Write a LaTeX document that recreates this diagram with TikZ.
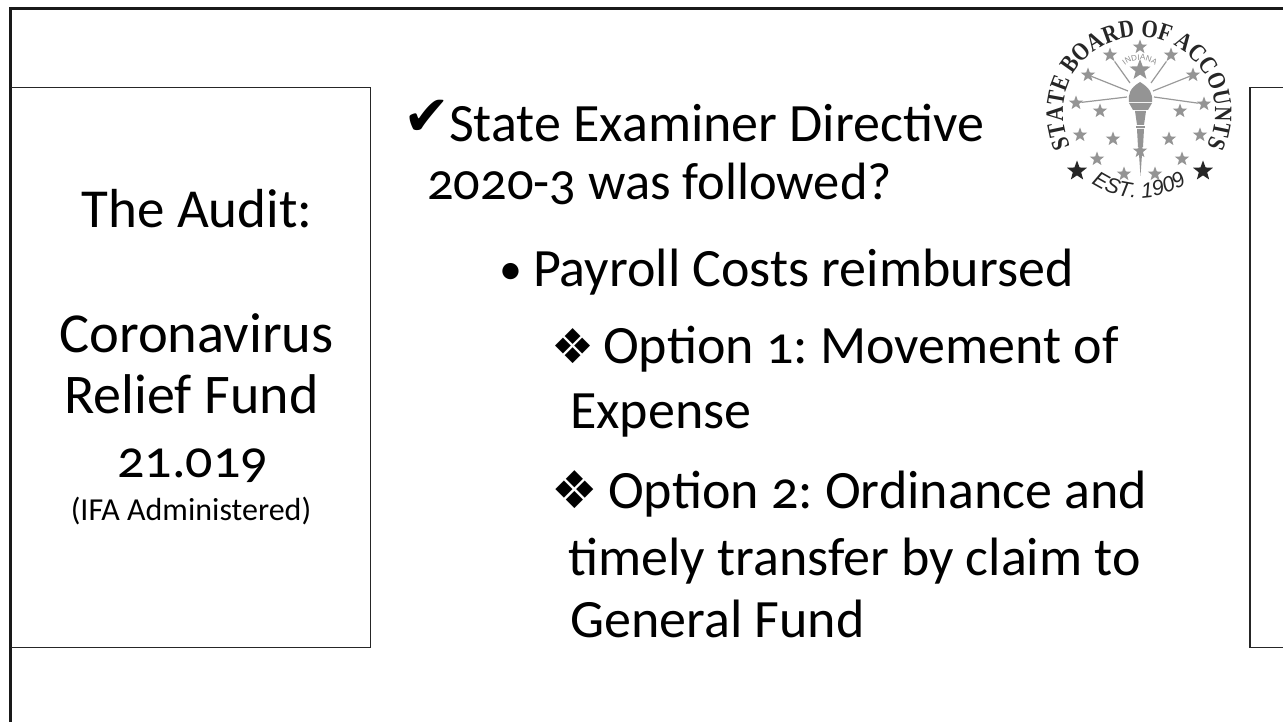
\documentclass[tikz,border=0pt]{standalone}
\usepackage{fontspec}
\setmainfont[Numbers=OldStyle]{Carlito}
\newfontfamily\symfont{DejaVu Sans}
\newfontfamily\sealserif[FakeStretch=0.84]{Liberation Serif}
\newfontfamily\sealsans{Liberation Sans}
\usetikzlibrary{shapes.geometric,decorations.text}
\tikzset{
 frameline/.style={draw=black!90,line width=3pt},
 boxline/.style={draw=black!85,line width=1.5pt},
 big/.style={font=\frenchspacing\fontsize{55}{55}\selectfont,anchor=base,inner sep=0pt},
 body/.style={font=\frenchspacing\fontsize{54}{54}\selectfont,anchor=base west,inner sep=0pt},
 small/.style={font=\frenchspacing\fontsize{32}{32}\selectfont,anchor=base,inner sep=0pt},
 gstar/.style={star,star points=5,star point ratio=2.4,fill=black!42,draw=none,minimum size=15pt,inner sep=0pt},
 kstar/.style={star,star points=5,star point ratio=2.4,fill=black!85,draw=none,minimum size=21pt,inner sep=0pt},
 ray/.style={draw=black!40,line width=1.2pt},
 torch/.style={fill=black!42,draw=none},
}
\begin{document}
\begin{tikzpicture}[x=1pt,y=-1pt]
\useasboundingbox (0,0) rectangle (1283,722);
\fill[white] (0,0) rectangle (1283,722);
% frame
\draw[frameline] (10.5,730) -- (10.5,8.5) -- (1290,8.5);
% side boxes
\draw[boxline] (10.5,87.5) -- (370.5,87.5) -- (370.5,647.5) -- (10.5,647.5);
\draw[boxline] (1290,87.5) -- (1250,87.5) -- (1250,647.5) -- (1290,647.5);
% left text
\node[big] (t1) at (197,228) {The Audit:};
\node[big,font=\fontsize{56.5}{56.5}\selectfont] (t2) at (196.5,352) {Coronavirus};
\node[big,font=\fontsize{56}{56}\selectfont] (t3) at (191.5,413) {Relief Fund};
\node[big,font=\fontsize{54}{54}\selectfont] (t4) at (192.5,477) {21.019};
\node[small] (t5) at (191,520) {(IFA Administered)};
% centre text
\node[body] (c0) at (403,136) {\symfont\fontsize{56}{56}\selectfont ✔};
\node[body] (c1) at (449,142) {State Examiner Directive};
\node[body,font=\frenchspacing\fontsize{52.5}{52.5}\selectfont] (c2) at (427,200) {2020-3 was followed?};
\node[body] (c3) at (499,284) {\fontsize{46}{46}\selectfont •};
\node[body] (c4) at (533,287) {Payroll Costs reimbursed};
\node[body] (c5) at (551,363) {\symfont\fontsize{48}{48}\selectfont ❖};
\node[body] (c6) at (603,363) {Option 1: Movement of};
\node[body] (c7) at (570,428) {Expense};
\node[body] (c8) at (551,508) {\symfont\fontsize{52}{52}\selectfont ❖};
\node[body] (c9) at (608,508) {Option 2: Ordinance and};
\node[body] (c10) at (568,575) {timely transfer by claim to};
\node[body] (c11) at (570,637) {General Fund};
% seal
\path[postaction={decorate,decoration={text along path,text align=center,
  text={|\sealserif\bfseries\fontsize{25}{25}\selectfont\color{black!85}|STATE BOARD OF ACCOUNTS}}}]
  (1139,113) ++(152:76) arc[start angle=152,end angle=388,radius=76];
\path[postaction={decorate,decoration={text along path,text align=center,
  text={|\sealsans\itshape\fontsize{21.5}{21.5}\selectfont\color{black!85}|EST. 1909}}}]
  (1139,113) ++(130:85) arc[start angle=130,end angle=50,radius=85];
\node[kstar] (k1) at (1077,171) {};
\node[kstar] (k2) at (1203,171) {};
\foreach \n/\x/\y in {a/1140/47,b/1110/55,c/1171/55,d/1088/75,e/1193/75,f/1076/103,g/1204/104,
  h/1100/111,i/1180/111,j/1080/135,l/1200/135,m/1113/139,n/1169/139,o/1097/159,p/1182/159,q/1124/174,r/1155/174}{
  \node[gstar] (s\n) at (\x,\y) {};
}
\node[gstar,minimum size=22pt] (sbig) at (1140,70) {};
\draw[ray] (sb) -- (1130,83);
\draw[ray] (sc) -- (1151,83);
\draw[ray] (sd) -- (1128,91);
\draw[ray] (se) -- (1153,91);
\draw[ray] (sf) -- (1127,97);
\draw[ray] (sg) -- (1154,97);
% torch
\fill[torch] (1140,82) .. controls (1130,88) and (1128,94) .. (1129,102) -- (1152,102) .. controls (1153,94) and (1150,88) .. (1140,82) -- cycle;
\fill[torch] (1129,103) -- (1152,103) -- (1148,110) -- (1133,110) -- cycle;
\fill[torch] (1135,111) -- (1146,111) -- (1144,125) -- (1137,125) -- cycle;
\fill[torch] (1136,126) -- (1145,126) -- (1145,128) -- (1136,128) -- cycle;
\fill[torch] (1137,129) -- (1144,129) -- (1143,147) -- (1138,147) -- cycle;
\fill[torch] (1138.5,147) -- (1142.5,147) -- (1140.5,176) -- cycle;
\node[gstar] (sm) at (1140,151) {};
\path[postaction={decorate,decoration={text along path,text align=center,
  text={|\sealsans\fontsize{8}{8}\selectfont\color{black!45}|INDIANA}}}]
  (1140,84) ++(220:24) arc[start angle=220,end angle=320,radius=24];
\end{tikzpicture}
\end{document}
